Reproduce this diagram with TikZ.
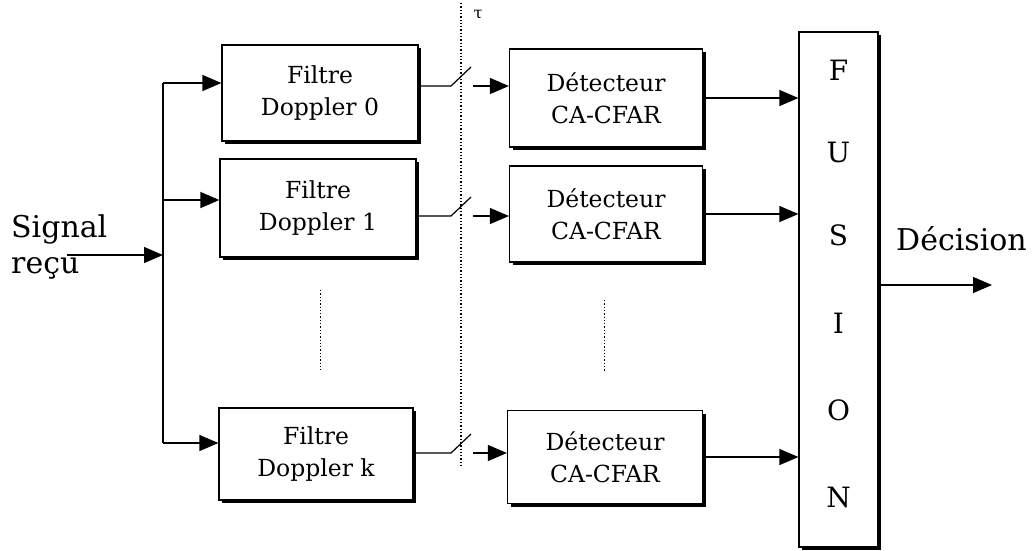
\documentclass[tikz,border=0pt]{standalone}
\usepackage{fontspec}
\setmainfont{DejaVu Serif}
\usetikzlibrary{arrows.meta,shadows}
\begin{document}
\begin{tikzpicture}[x=1pt,y=-1pt,
  blk/.style={draw,line width=1.2pt,fill=white,align=center,inner sep=0pt,
    font=\fontsize{23.5}{32}\selectfont,
    drop shadow={shadow xshift=3pt,shadow yshift=-3pt,fill=black,opacity=1}},
  wire/.style={line width=1.2pt},
  arr/.style={line width=1.2pt,-{Triangle[length=19pt,width=16pt]}},
  dots/.style={line width=1.3pt,dotted},
  big/.style={font=\fontsize{30}{36}\selectfont,inner sep=0pt},
  letter/.style={font=\fontsize{28}{28}\selectfont,inner sep=0pt}]
\useasboundingbox (0,0) rectangle (1036,550);
% filters
\node[blk,minimum width=196pt,minimum height=96pt] (F0) at (320,93) {Filtre\\Doppler 0};
\node[blk,minimum width=196pt,minimum height=98pt] (F1) at (318,208) {Filtre\\Doppler 1};
\node[blk,minimum width=194pt,minimum height=92pt] (Fk) at (316,454) {Filtre\\Doppler k};
% detectors
\node[blk,minimum width=193pt,minimum height=98pt] (D0) at (606,98) {Détecteur\\CA-CFAR};
\node[blk,minimum width=193pt,minimum height=96pt] (D1) at (606,214) {Détecteur\\CA-CFAR};
\node[blk,minimum width=195pt,minimum height=93pt] (Dk) at (605,457) {Détecteur\\CA-CFAR};
% fusion
\node[blk,minimum width=79pt,minimum height=515pt] (FU) at (838.5,289.5) {};
\node[letter] (l1) at (838.5,70) {F};
\node[letter] (l2) at (838.5,152) {U};
\node[letter] (l3) at (838.5,235) {S};
\node[letter] (l4) at (838.5,323) {I};
\node[letter] (l5) at (838.5,410) {O};
\node[letter] (l6) at (838.5,497) {N};
% input
\node[big,anchor=base west] (sig) at (11,237) {Signal};
\node[big,anchor=base west] (rec) at (11,273) {reçu};
\coordinate (in) at (67,255);
\coordinate (b0) at (163,83);
\coordinate (b1) at (163,200);
\coordinate (bk) at (163,443);
\coordinate (bm) at (163,255);
\draw[arr] (in) -- (bm);
\draw[wire] (b0) -- (bk);
\draw[arr] (b0) -- (b0 -| F0.west);
\draw[arr] (b1) -- (b1 -| F1.west);
\draw[arr] (bk) -- (bk -| Fk.west);
% tau line
\coordinate (t1) at (461,3);
\coordinate (t2) at (461,467);
\draw[dots] (t1) -- (t2);
\node[font=\fontsize{16}{16}\selectfont,inner sep=0pt] (tau) at (478,15) {τ};
% switches
\foreach \f/\d/\y in {F0/D0/86,F1/D1/216,Fk/Dk/453}{
  \coordinate (s\f) at (451,\y);
  \coordinate (e\f) at (471,\y-19);
  \coordinate (a\f) at (473,\y);
  \draw[wire] (s\f -| \f.east) -- (s\f) -- (e\f);
  \draw[arr] (a\f) -- (a\f -| \d.west);
}
% to fusion
\draw[arr] (D0.east) -- (D0.east -| FU.west);
\draw[arr] (D1.east) -- (D1.east -| FU.west);
\draw[arr] (Dk.east) -- (Dk.east -| FU.west);
% output
\coordinate (out) at (992,285);
\draw[arr] (out -| FU.east) -- (out);
\node[big,anchor=base west] (dec) at (896,250) {Décision};
% vertical ellipsis dots
\coordinate (v1) at (320,290);
\coordinate (v2) at (320,370);
\coordinate (v3) at (604,300);
\coordinate (v4) at (604,372);
\draw[dots,line width=0.9pt] (v1) -- (v2);
\draw[dots,line width=0.9pt] (v3) -- (v4);
\end{tikzpicture}
\end{document}
